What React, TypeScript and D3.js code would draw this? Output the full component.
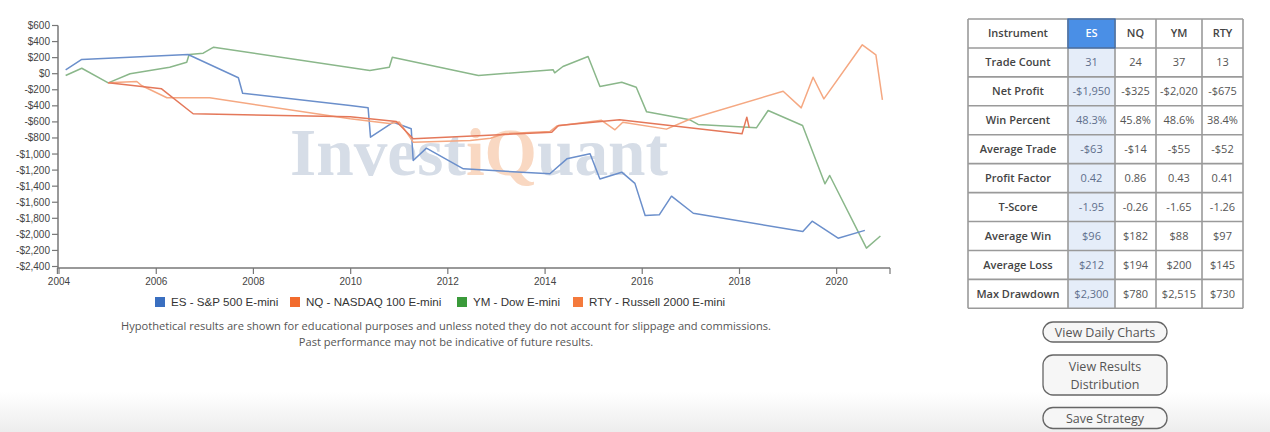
import React from "react";
import * as d3 from "d3";

// ---------- DATA ----------
const esDates = ["2004-02-20","2004-06-20","2006-08-28","2007-09-10","2007-10-12","2009-12-28","2010-05-12","2010-05-30","2010-11-18","2011-04-01","2011-04-16","2011-07-24","2012-04-27","2014-02-06","2014-06-14","2014-12-05","2015-02-17","2015-07-31","2015-11-07","2016-01-23","2016-05-08","2016-08-08","2017-01-19","2019-04-22","2019-07-01","2020-01-12","2020-07-31"];
const esValues = [49,177,239,-51,-243,-396,-425,-790,-604,-686,-1080,-927,-1184,-1246,-1060,-997,-1310,-1226,-1365,-1765,-1757,-1525,-1737,-1965,-1836,-2048,-1950];

const nqDates = ["2005-01-05","2005-08-08","2005-09-12","2006-03-22","2007-02-06","2009-12-28","2010-10-18","2011-01-01","2011-04-16","2012-06-18","2012-11-17","2013-02-24","2014-02-06","2014-04-01","2015-03-01","2015-06-10","2015-08-08","2016-07-01","2017-01-01","2018-11-25","2019-04-10","2019-07-08","2019-09-27","2020-07-12","2020-10-22","2020-12-10"];
const nqValues = [-114,-97,-147,-300,-300,-560,-620,-600,-852,-832,-803,-748,-720,-650,-580,-698,-604,-690,-561,-218,-425,-44,-313,360,235,-325];

const ymDates = ["2004-02-20","2004-06-20","2005-01-05","2005-06-18","2006-04-12","2006-08-18","2006-09-05","2006-12-20","2007-03-08","2010-05-25","2010-10-18","2010-11-10","2012-08-18","2014-03-03","2014-03-14","2014-05-15","2014-11-20","2015-02-17","2015-07-31","2015-11-17","2016-02-03","2016-12-24","2017-02-24","2018-05-08","2018-08-04","2019-04-20","2019-10-05","2019-11-10","2020-08-12","2020-11-25"];
const ymValues = [-22,68,-114,0,81,143,239,255,330,40,81,205,-22,48,11,90,214,-159,-106,-168,-475,-574,-632,-674,-458,-645,-1371,-1267,-2172,-2020];

const rtyDates = ["2005-01-05","2006-02-10","2006-10-05","2009-12-28","2010-12-10","2011-04-16","2014-02-20","2014-04-12","2015-07-15","2018-01-20","2018-02-25","2018-03-15"];
const rtyValues = [-114,-188,-499,-535,-595,-811,-728,-645,-574,-748,-541,-675];

const seriesNames = ["ES - S&P 500 E-mini","NQ - NASDAQ 100 E-mini","YM - Dow E-mini","RTY - Russell 2000 E-mini"];
const legendColors = ["#3a6fc0","#f26b2d","#3a9a3a","#f47a3c"];
const lineColors = ["#6b8fcb","#f5a882","#8ab78a","#e4785a"];

const yTicks = [600,400,200,0,-200,-400,-600,-800,-1000,-1200,-1400,-1600,-1800,-2000,-2200,-2400];
const xTickYears = [2004,2006,2008,2010,2012,2014,2016,2018,2020];

const instruments = ["ES","NQ","YM","RTY"];
const rowLabels = ["Trade Count","Net Profit","Win Percent","Average Trade","Profit Factor","T-Score","Average Win","Average Loss","Max Drawdown"];
const tradeCount = ["31","24","37","13"];
const netProfit = ["-$1,950","-$325","-$2,020","-$675"];
const winPercent = ["48.3%","45.8%","48.6%","38.4%"];
const avgTrade = ["-$63","-$14","-$55","-$52"];
const profitFactor = ["0.42","0.86","0.43","0.41"];
const tScore = ["-1.95","-0.26","-1.65","-1.26"];
const avgWin = ["$96","$182","$88","$97"];
const avgLoss = ["$212","$194","$200","$145"];
const maxDrawdown = ["$2,300","$780","$2,515","$730"];
const tableRows = [tradeCount,netProfit,winPercent,avgTrade,profitFactor,tScore,avgWin,avgLoss,maxDrawdown];

const buttonLabels = [["View Daily Charts"],["View Results","Distribution"],["Save Strategy"]];

const disclaimer1 = "Hypothetical results are shown for educational purposes and unless noted they do not account for slippage and commissions.";
const disclaimer2 = "Past performance may not be indicative of future results.";

// ---------- CHART ----------
const W = 1270, H = 432;
const parse = d3.timeParse("%Y-%m-%d");

export default function App() {
  const x = d3.scaleTime().domain([new Date(2003, 11, 20), new Date(2021, 1, 5)]).range([57.4, 890]);
  const y = d3.scaleLinear().domain([-2400, 600]).range([266.5, 25.5]);
  const fmt = (v: number) => (v < 0 ? "-" : "") + "$" + d3.format(",")(Math.abs(v));
  const line = d3.line<[Date, number]>().x(d => x(d[0])).y(d => y(d[1]));
  const mk = (ds: string[], vs: number[]) => ds.map((d, i) => [parse(d) as Date, vs[i]] as [Date, number]);
  const series = [mk(esDates, esValues), mk(nqDates, nqValues), mk(ymDates, ymValues), mk(rtyDates, rtyValues)];
  const drawOrder = [2, 0, 1, 3];

  const axisY = y(-2400) + 1.5;
  const yAxisX = 58;

  const colX = [968, 1068, 1115, 1156, 1202, 1243];
  const rowTop = 19, rowH = 28.93;
  const nRows = 10;

  const legendX = [155, 290, 457, 573];
  const legendY = 302;

  const btnX = 1043, btnW = 124;
  const btnY = [322, 355, 407.5];
  const btnH = [20, 40, 21];

  return (
    <div style={{ position: "absolute", left: 0, top: 0 }}>
      <svg width={W} height={H} style={{ display: "block" }}>
        <defs>
          <linearGradient id="bottomBand" x1="0" y1="0" x2="0" y2="1">
            <stop offset="0" stopColor="#ffffff" />
            <stop offset="1" stopColor="#ededed" />
          </linearGradient>
        </defs>
        <rect x={0} y={0} width={W} height={H} fill="#ffffff" />
        <rect x={0} y={392} width={W} height={40} fill="url(#bottomBand)" />

        {/* watermark */}
        <text x={290} y={175} fontFamily="'Liberation Serif', 'DejaVu Serif', serif" fontWeight="bold" fontSize={68} textLength={378} lengthAdjust="spacingAndGlyphs">
          <tspan fill="#d6dde7">Invest</tspan>
          <tspan fill="#f9d8c2">iQ</tspan>
          <tspan fill="#d6dde7">uant</tspan>
        </text>

        {/* lines */}
        {drawOrder.map(i => (
          <path key={i} d={line(series[i]) || ""} fill="none" stroke={lineColors[i]} strokeWidth={1.5} strokeLinejoin="round" />
        ))}

        {/* y axis */}
        <g fontFamily="'Liberation Sans', Arial, sans-serif" fontSize={10} fill="#444">
          <line x1={yAxisX} y1={y(600)} x2={yAxisX} y2={axisY} stroke="#777" strokeWidth={1.5} />
          {yTicks.map(t => (
            <g key={t}>
              <line x1={yAxisX - 6} x2={yAxisX} y1={y(t)} y2={y(t)} stroke="#777" strokeWidth={1.2} />
              <text x={yAxisX - 8} y={y(t) + 3.5} textAnchor="end">{fmt(t)}</text>
            </g>
          ))}
        </g>

        {/* x axis */}
        <g fontFamily="'Liberation Sans', Arial, sans-serif" fontSize={10} fill="#444">
          <line x1={x.range()[0]} x2={x.range()[1]} y1={axisY} y2={axisY} stroke="#777" strokeWidth={1.5} />
          <line x1={x.range()[0]} x2={x.range()[0]} y1={axisY} y2={axisY + 6} stroke="#777" strokeWidth={1.2} />
          <line x1={x.range()[1]} x2={x.range()[1]} y1={axisY} y2={axisY + 6} stroke="#777" strokeWidth={1.2} />
          {xTickYears.map(yr => {
            const px = x(new Date(yr, 0, 1));
            return (
              <g key={yr}>
                <line x1={px} x2={px} y1={axisY} y2={axisY + 6} stroke="#777" strokeWidth={1.2} />
                <text x={px} y={axisY + 17} textAnchor="middle">{yr}</text>
              </g>
            );
          })}
        </g>

        {/* legend */}
        <g fontFamily="'Liberation Sans', Arial, sans-serif" fontSize={11.6} fill="#333">
          {seriesNames.map((n, i) => (
            <g key={n}>
              <rect x={legendX[i]} y={legendY - 5} width={10} height={10} fill={legendColors[i]} />
              <text x={legendX[i] + 16} y={legendY + 4}>{n}</text>
            </g>
          ))}
        </g>

        {/* disclaimer */}
        <g fontFamily="'Open Sans', sans-serif" fontSize={11.1} fill="#555" textAnchor="middle">
          <text x={446} y={330}>{disclaimer1}</text>
          <text x={446} y={346}>{disclaimer2}</text>
        </g>

        {/* table */}
        <g fontFamily="'Open Sans', sans-serif" fontSize={11}>
          <rect x={colX[1]} y={rowTop} width={colX[2] - colX[1]} height={rowH * nRows} fill="#e5edf9" />
          <rect x={colX[1]} y={rowTop} width={colX[2] - colX[1]} height={rowH} fill="#4a8fe6" />
          {d3.range(nRows + 1).map(r => (
            <line key={"h" + r} x1={colX[0]} x2={colX[5]} y1={rowTop + r * rowH} y2={rowTop + r * rowH} stroke="#9a9a9a" strokeWidth={1.6} />
          ))}
          {colX.map((cx, c) => (
            <line key={"v" + c} x1={cx} x2={cx} y1={rowTop} y2={rowTop + nRows * rowH} stroke="#9a9a9a" strokeWidth={1.6} />
          ))}
          <rect x={colX[1]} y={rowTop} width={colX[2] - colX[1]} height={rowH} fill="none" stroke="#2f64ad" strokeWidth={1.2} />
          <text x={(colX[0] + colX[1]) / 2} y={rowTop + rowH / 2 + 4} textAnchor="middle" fontWeight={600} fill="#444">Instrument</text>
          {instruments.map((ins, c) => (
            <text key={ins} x={(colX[c + 1] + colX[c + 2]) / 2} y={rowTop + rowH / 2 + 4} textAnchor="middle" fontWeight={600} fill={c === 0 ? "#ffffff" : "#444"}>{ins}</text>
          ))}
          {rowLabels.map((lab, r) => (
            <g key={lab}>
              <text x={(colX[0] + colX[1]) / 2} y={rowTop + (r + 1) * rowH + rowH / 2 + 4} textAnchor="middle" fontWeight={600} fill="#444">{lab}</text>
              {tableRows[r].map((v, c) => (
                <text key={c} x={(colX[c + 1] + colX[c + 2]) / 2} y={rowTop + (r + 1) * rowH + rowH / 2 + 4} textAnchor="middle" fill={c === 0 ? "#5f6f8c" : "#555"}>{v}</text>
              ))}
            </g>
          ))}
        </g>

        {/* buttons */}
        <g fontFamily="'Open Sans', sans-serif" fontSize={12.5} fill="#555" textAnchor="middle">
          {buttonLabels.map((lines, i) => (
            <g key={i}>
              <rect x={btnX} y={btnY[i]} width={btnW} height={btnH[i]} rx={10} ry={10} fill="#f6f6f6" stroke="#666" strokeWidth={1.3} />
              {lines.map((t, j) => (
                <text key={j} x={btnX + btnW / 2} y={btnY[i] + btnH[i] / 2 + 4.5 + (j - (lines.length - 1) / 2) * 18}>{t}</text>
              ))}
            </g>
          ))}
        </g>
      </svg>
    </div>
  );
}
